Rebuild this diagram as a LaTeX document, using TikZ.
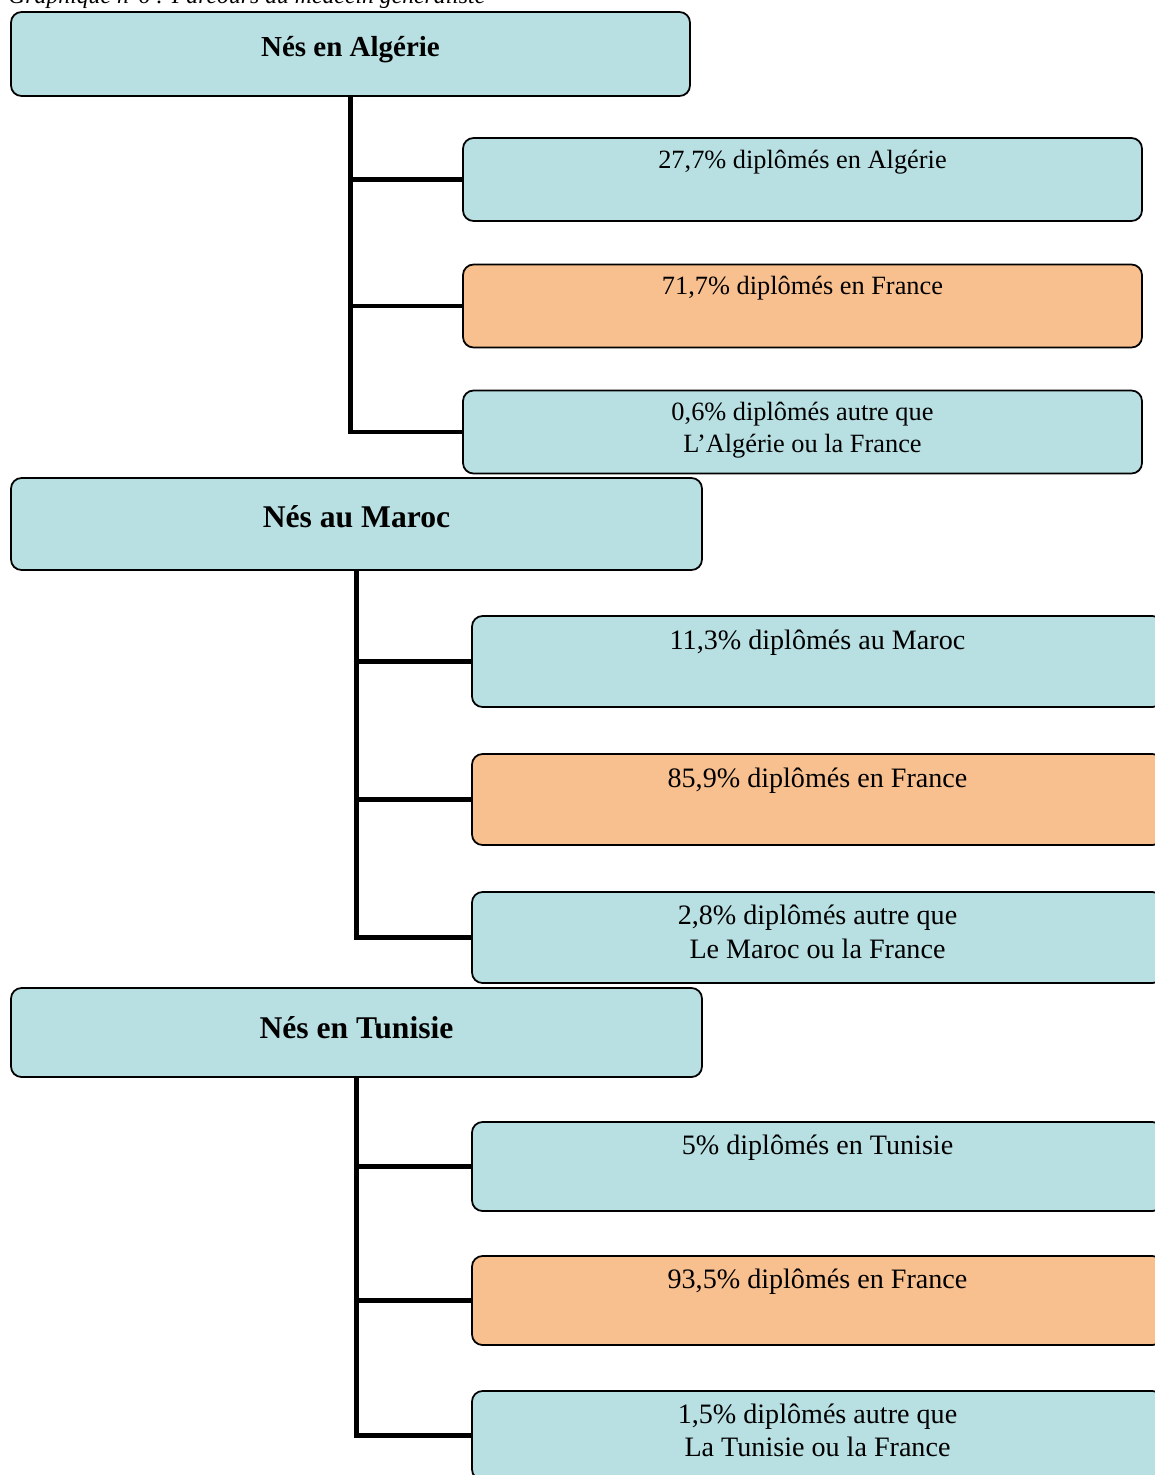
\documentclass[tikz,border=0pt]{standalone}
\usepackage{fontspec}
\setmainfont{Liberation Serif}
\usetikzlibrary{positioning}

\definecolor{boxblue}{RGB}{184,223,226}
\definecolor{boxorange}{RGB}{248,191,143}

\tikzset{
    head/.style={draw=black, line width=1pt, rounded corners=6pt, fill=boxblue,
        minimum height=#1, inner sep=0pt, align=center,
        font=\fontsize{18}{21}\selectfont\bfseries},
    leaf/.style={draw=black, line width=1pt, rounded corners=6pt, fill=boxblue,
        minimum height=#1, inner sep=0pt, align=center},
    onerow/.style={text height=12pt, text depth=#1},
    tworow/.style={text depth=#1},
    link/.style={line width=2.3pt, line cap=rect}
}

\begin{document}
\begin{tikzpicture}[x=0.02cm, y=-0.02cm]
        \useasboundingbox (0,0) rectangle (1154,1475);
        % Caption (cut by the page top)
        \node[anchor=base west, inner sep=0pt, font=\fontsize{13.5}{16}\selectfont\itshape] (cap) at (8,3)
            {Graphique n°6 : Parcours du médecin généraliste};
        % Born in Algeria
        \node[head=84*0.02cm, minimum width=679*0.02cm, onerow=9.2pt, font=\fontsize{16.5}{20}\selectfont\bfseries] (alg) at (350.5,54) {Nés en Algérie};
        \begin{scope}[every node/.style={leaf=83*0.02cm, minimum width=679*0.02cm, font=\fontsize{15}{18}\selectfont}]
            \node[onerow=25pt] (alg1) at (802.5,179.5) {27,7\% diplômés en Algérie};
            \node[onerow=25pt, fill=boxorange] (alg2) at (802.5,306) {71,7\% diplômés en France};
            \node[tworow=5.6pt] (alg3) at (802.5,432) {0,6\% diplômés autre que\\L’Algérie ou la France};
        \end{scope}
        % Born in Morocco
        \node[head=92*0.02cm, minimum width=691*0.02cm, onerow=8pt] (mar) at (356.5,524) {Nés au Maroc};
        \begin{scope}[every node/.style={leaf=91*0.02cm, minimum width=691*0.02cm, font=\fontsize{16}{19}\selectfont}]
            \node[onerow=26pt] (mar1) at (817.5,661.5) {11,3\% diplômés au Maroc};
            \node[onerow=26pt, fill=boxorange] (mar2) at (817.5,799.5) {85,9\% diplômés en France};
            \node[tworow=6.8pt] (mar3) at (817.5,937.5) {2,8\% diplômés autre que\\Le Maroc ou la France};
        \end{scope}
        % Born in Tunisia
        \node[head=89*0.02cm, minimum width=691*0.02cm, onerow=5.2pt] (tun) at (356.5,1032.5) {Nés en Tunisie};
        \begin{scope}[every node/.style={leaf=89*0.02cm, minimum width=691*0.02cm, font=\fontsize{16}{19}\selectfont}]
            \node[onerow=26pt] (tun1) at (817.5,1166.5) {5\% diplômés en Tunisie};
            \node[onerow=26pt, fill=boxorange] (tun2) at (817.5,1300.5) {93,5\% diplômés en France};
            \node[tworow=5.7pt] (tun3) at (817.5,1435.5) {1,5\% diplômés autre que\\La Tunisie ou la France};
        \end{scope}
        % Draw links
        \foreach \grp in {alg, mar, tun} {
            \foreach \i in {1,2,3} {
                \draw [link] (\grp.south) |- (\grp\i.west);
            }
        }
    \end{tikzpicture}
\end{document}
